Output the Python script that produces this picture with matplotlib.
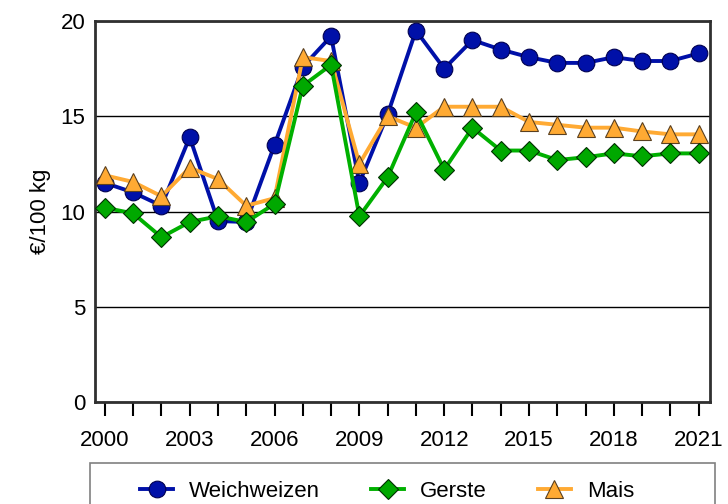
import matplotlib
matplotlib.use("Agg")
import matplotlib.pyplot as plt
from matplotlib.patches import Rectangle

plt.rcParams['font.family'] = ['Liberation Sans', 'DejaVu Sans']

# Daten (€/100 kg)
jahre = list(range(2000, 2022))
weichweizen = [11.5, 11.0, 10.3, 13.9, 9.5, 9.45, 13.5, 17.6, 19.2, 11.5, 15.1,
               19.5, 17.5, 19.0, 18.5, 18.1, 17.8, 17.8, 18.1, 17.9, 17.9, 18.3]
gerste = [10.2, 9.9, 8.65, 9.45, 9.75, 9.45, 10.4, 16.6, 17.7, 9.75, 11.8,
          15.2, 12.2, 14.4, 13.2, 13.2, 12.7, 12.85, 13.05, 12.9, 13.05, 13.05]
mais = [11.9, 11.55, 10.8, 12.3, 11.7, 10.3, 10.7, 18.1, 17.9, 12.5, 15.0,
        14.4, 15.5, 15.5, 15.5, 14.7, 14.55, 14.4, 14.4, 14.2, 14.05, 14.05]
beschriftung = [2000, 2003, 2006, 2009, 2012, 2015, 2018, 2021]

fig = plt.figure(figsize=(7.28, 5.04), dpi=100)
ax = fig.add_axes([95 / 728, 1 - 402 / 504, 615 / 728, 381 / 504])

ax.plot(jahre, weichweizen, color="#0010a8", lw=2.8, marker="o", ms=12,
        mfc="#0010a8", mec="#000050", mew=0.8, label="Weichweizen", zorder=3)
ax.plot(jahre, gerste, color="#00b000", lw=2.8, marker="D", ms=10,
        mfc="#00a800", mec="#003000", mew=0.8, label="Gerste", zorder=5)
ax.plot(jahre, mais, color="#ffaa33", lw=2.8, marker="^", ms=13,
        mfc="#ffaa33", mec="#5a4020", mew=0.8, label="Mais", zorder=4)

ax.set_ylim(0, 20)
ax.set_xlim(1999.65, 2021.4)
ax.set_yticks([0, 5, 10, 15, 20])
ax.yaxis.grid(True, color="black", lw=1)
ax.set_axisbelow(True)
ax.tick_params(axis="y", length=0, pad=7, labelsize=16)
ax.set_xticks(beschriftung)
ax.set_xticks(jahre, minor=True)
ax.tick_params(axis="x", which="both", direction="out", length=10, width=1.5,
               labelsize=16, pad=10)
for s in ax.spines.values():
    s.set_linewidth(2)
    s.set_color("#303030")
ax.set_ylabel("€/100 kg", fontsize=16, labelpad=7)

# Legendenrahmen (unten abgeschnitten wie im Original)
fig.patches.append(Rectangle((90 / 728, -0.05), 625 / 728, 0.05 + 41 / 504,
                             transform=fig.transFigure, fill=False,
                             edgecolor="#808080", lw=1.2))
fig.legend(loc="upper left", bbox_to_anchor=(140 / 728, 1 - 481 / 504),
           ncol=3, fontsize=16, frameon=False, handlelength=1.5,
           borderpad=0, borderaxespad=0, handletextpad=0.7, columnspacing=2.3)

fig.savefig("out.png", dpi=100)
